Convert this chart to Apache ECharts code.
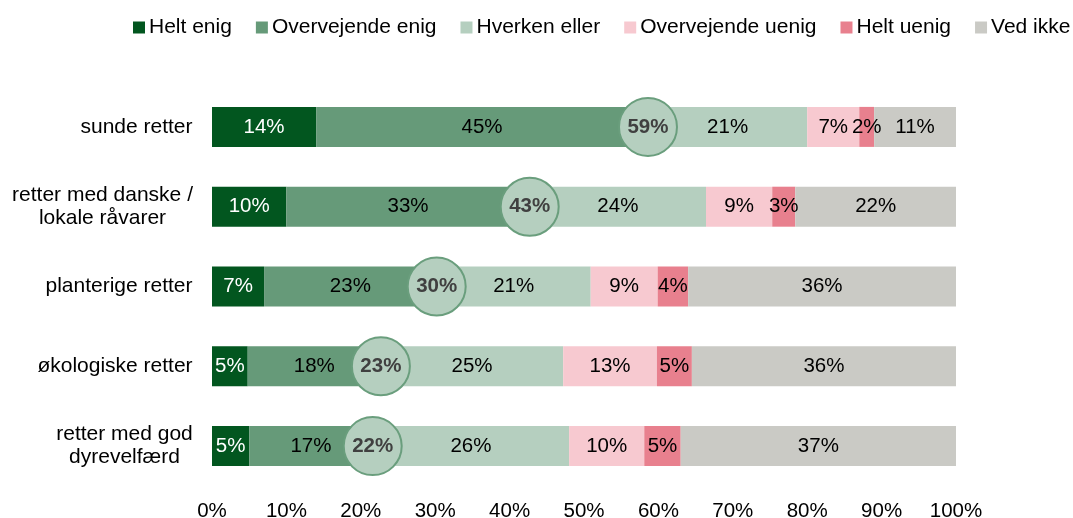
<html>

<head>
    <meta charset="utf-8" />
    <script src="https://cdn.jsdelivr.net/npm/echarts@6/dist/echarts.min.js"></script>
    <style>
        body { margin: 0; background: #fff; }
        #chart { width: 1073px; height: 518px; }
    </style>
</head>

<body>
    <div id="chart"></div>

    <script>
        // categories, top to bottom
        var categories = ['sunde retter', 'retter med danske /\nlokale råvarer', 'planterige retter',
            'økologiske retter', 'retter med god\ndyrevelfærd'];

        var seriesNames = ['Helt enig', 'Overvejende enig', 'Hverken eller', 'Overvejende uenig', 'Helt uenig', 'Ved ikke'];

        var heltEnig = [14, 10, 7, 4.8, 5];
        var overvejendeEnig = [44.6, 32.7, 23.2, 17.9, 16.6];
        var hverkenEller = [21.4, 23.7, 20.7, 24.5, 26.4];
        var overvejendeUenig = [7, 8.9, 9, 12.6, 10.1];
        var heltUenig = [2, 3.1, 4.1, 4.7, 4.9];
        var vedIkke = [11, 21.6, 36, 35.5, 37];

        var colors = ['#02561f', '#669a79', '#b5cfbf', '#f7c9d0', '#e8808e', '#cacac5'];
        var labelColors = ['#ffffff', '#000000', '#000000', '#000000', '#000000', '#000000'];

        var allValues = [heltEnig, overvejendeEnig, hverkenEller, overvejendeUenig, heltUenig, vedIkke];

        //----------------------------------
        var FONT = 'Arial, "Liberation Sans", sans-serif';
        var FS = 20.5;   // value + axis labels
        var FS_TXT = 21; // legend + category labels
        var ctx = document.createElement('canvas').getContext('2d');
        ctx.font = FS_TXT + 'px ' + FONT;

        var blockWidth = function (value) {
            var w = 0;
            value.split('\n').forEach(function (l) { w = Math.max(w, Math.ceil(ctx.measureText(l).width)); });
            return w;
        };

        // multi-line category labels are centred on their own block, as in the source
        var catLabel = function (value) {
            var w = blockWidth(value);
            return value.split('\n').map(function (l) { return '{c' + w + '|' + l + '}'; }).join('\n');
        };
        var rich = {};
        categories.forEach(function (c) {
            var w = blockWidth(c);
            rich['c' + w] = { width: w, align: 'center', fontSize: FS_TXT, fontFamily: FONT, color: '#000', lineHeight: 23 };
        });

        var series = allValues.map(function (vals, i) {
            return {
                name: seriesNames[i],
                type: 'bar',
                stack: 'total',
                barWidth: 40,
                data: vals,
                itemStyle: { color: colors[i] },
                label: {
                    show: true,
                    position: 'inside',
                    color: labelColors[i],
                    fontSize: FS,
                    fontFamily: FONT,
                    formatter: function (p) { return Math.round(p.value) + '%'; }
                },
                emphasis: { disabled: true }
            };
        });

        // circles at "enig" total
        var enigTotal = heltEnig.map(function (v, i) { return [v + overvejendeEnig[i], i]; });
        series.push({
            name: 'enig i alt',
            type: 'scatter',
            data: enigTotal,
            symbol: 'circle',
            symbolSize: 58,
            z: 5,
            itemStyle: { color: '#b5cfbf', borderColor: '#6a9e7d', borderWidth: 2, opacity: 1 },
            label: {
                show: true,
                position: 'inside',
                color: '#404040',
                fontSize: FS,
                fontWeight: 'bold',
                fontFamily: FONT,
                formatter: function (p) { return Math.round(p.value[0]) + '%'; }
            },
            emphasis: { disabled: true }
        });

        var myChart = echarts.init(document.getElementById('chart'));
        var option = {
            animation: false,
            textStyle: { fontFamily: FONT },
            legend: {
                data: seriesNames,
                top: 12,
                left: 128,
                width: 945,
                itemWidth: 12,
                itemHeight: 12,
                itemGap: 24,
                icon: 'rect',
                textStyle: { fontSize: FS_TXT, color: '#000', fontFamily: FONT, padding: [0, 0, 0, -1] }
            },
            grid: { left: 212, right: 117, top: 87, bottom: 32, containLabel: false, outerBoundsMode: 'none' },
            xAxis: {
                type: 'value',
                min: 0,
                max: 100,
                interval: 10,
                axisLine: { show: false },
                axisTick: { show: false },
                splitLine: { show: false },
                axisLabel: { fontSize: FS, color: '#000', fontFamily: FONT, margin: 15, formatter: '{value}%' }
            },
            yAxis: {
                type: 'category',
                data: categories,
                inverse: true,
                axisLine: { show: false },
                axisTick: { show: false },
                axisLabel: { margin: 19, formatter: catLabel, rich: rich, fontSize: FS_TXT, color: '#000' }
            },
            series: series
        };

        myChart.setOption(option);
    </script>
</body>

</html>
